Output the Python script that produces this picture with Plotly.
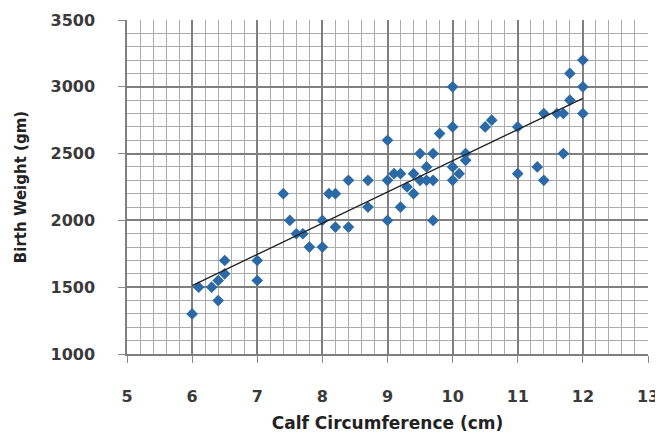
import numpy as np
import plotly.graph_objects as go

calf_cm = [6.0, 6.1, 6.3, 6.4, 6.4, 6.5, 6.5, 7.0, 7.0, 7.4, 7.5, 7.6, 7.7, 7.8,
           8.0, 8.0, 8.1, 8.2, 8.2, 8.4, 8.4, 8.7, 8.7, 9.0, 9.0, 9.0, 9.1, 9.2,
           9.2, 9.3, 9.4, 9.4, 9.5, 9.5, 9.6, 9.6, 9.7, 9.7, 9.7, 9.8, 10.0, 10.0,
           10.0, 10.0, 10.1, 10.2, 10.2, 10.5, 10.6, 11.0, 11.0, 11.3, 11.4, 11.4,
           11.6, 11.7, 11.7, 11.8, 11.8, 12.0, 12.0, 12.0]
birth_wt_gm = [1300, 1500, 1500, 1550, 1400, 1700, 1600, 1700, 1550, 2200, 2000, 1900, 1900, 1800,
               1800, 2000, 2200, 2200, 1950, 1950, 2300, 2300, 2100, 2600, 2300, 2000, 2350, 2350,
               2100, 2250, 2350, 2200, 2500, 2300, 2400, 2300, 2500, 2300, 2000, 2650, 3000, 2700,
               2400, 2300, 2350, 2500, 2450, 2700, 2750, 2700, 2350, 2400, 2800, 2300,
               2800, 2800, 2500, 3100, 2900, 3200, 3000, 2800]

x_ticks = [5, 6, 7, 8, 9, 10, 11, 12, 13]
y_ticks = [1000, 1500, 2000, 2500, 3000, 3500]

slope, intercept = np.polyfit(calf_cm, birth_wt_gm, 1)
xf = np.array([min(calf_cm), max(calf_cm)])
yf = slope * xf + intercept

fig = go.Figure()
fig.add_trace(go.Scatter(
    x=calf_cm, y=birth_wt_gm, mode="markers",
    marker=dict(symbol="diamond", size=9, color="#2b6aa6"),
    showlegend=False, hoverinfo="x+y"))
fig.add_trace(go.Scatter(
    x=xf, y=yf, mode="lines", line=dict(color="#222222", width=1.3),
    showlegend=False, hoverinfo="skip"))

tickfont = dict(family="DejaVu Sans", size=16, color="#3a3a3a", weight="bold")
xtitlefont = dict(family="DejaVu Sans", size=17, color="#222222", weight="bold")
ytitlefont = dict(family="DejaVu Sans", size=15, color="#222222", weight="bold")

fig.update_xaxes(
    range=[5, 13], tickvals=x_ticks, ticktext=[str(v) for v in x_ticks],
    showgrid=True, gridcolor="#7f7f7f", gridwidth=1.5,
    minor=dict(dtick=0.2, showgrid=True, gridcolor="#ababab", gridwidth=1),
    ticks="outside", ticklen=7, tickcolor="#8a8a8a",
    showline=True, linecolor="#7f7f7f", linewidth=1.5, mirror=False,
    zeroline=False, tickfont=tickfont, ticklabelstandoff=20,
    ticklabeloverflow="allow", automargin=False,
    title=dict(text="Calf Circumference (cm)", font=xtitlefont, standoff=12))
fig.update_yaxes(
    range=[1000, 3500], tickvals=y_ticks, ticktext=[str(v) for v in y_ticks],
    showgrid=True, gridcolor="#7f7f7f", gridwidth=1.5,
    minor=dict(dtick=100, showgrid=True, gridcolor="#ababab", gridwidth=1),
    ticks="outside", ticklen=7, tickcolor="#8a8a8a",
    showline=True, linecolor="#7f7f7f", linewidth=1.5,
    zeroline=False, tickfont=tickfont, ticklabelstandoff=20,
    automargin=False,
    title=dict(text="Birth Weight (gm)", font=ytitlefont, standoff=20))

# page body adds an 8px offset; size the figure so the plot area lands where the reference has it
fig.update_layout(
    width=655, height=432,
    margin=dict(l=119, r=15, t=12, b=86),
    plot_bgcolor="white", paper_bgcolor="white")

fig.write_html("out.html")
